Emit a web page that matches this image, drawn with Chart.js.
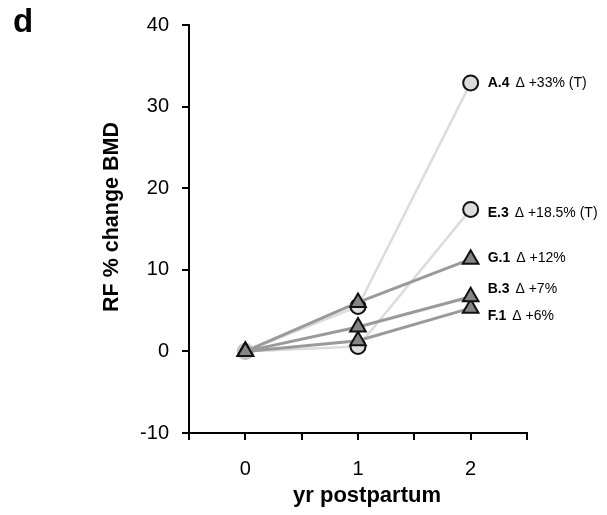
<!DOCTYPE html>
<html>
<head>
<meta charset="utf-8">
<script src="https://cdn.jsdelivr.net/npm/chart.js@4/dist/chart.umd.min.js"></script>
<style>
html,body{margin:0;padding:0;background:#fff;}
#wrap{width:607px;height:515px;position:relative;}
</style>
</head>
<body>
<div id="wrap"><canvas id="c" width="607" height="515"></canvas></div>
<script>
// ---- data ----
const years = [0, 1, 2];
const yTicks = [-10, 0, 10, 20, 30, 40];
const seriesNames = ['G.1', 'B.3', 'F.1', 'A.4', 'E.3'];
const seriesDeltas = ['Δ +12%', 'Δ +7%', 'Δ +6%', 'Δ +33% (T)', 'Δ +18.5% (T)'];
const G1 = [0, 6.0, 11.3];
const B3 = [0, 3.0, 6.7];
const F1 = [0, 1.3, 5.3];
const A4 = [0, 5.5, 32.9];
const E3 = [0, 0.6, 17.4];
const seriesValues = [G1, B3, F1, A4, E3];
const seriesKind = ['tri', 'tri', 'tri', 'circ', 'circ'];

const FONT = "Arial, 'Liberation Sans', sans-serif";

function pts(vals){ return vals.map((v,i)=>({x: years[i], y: v})); }

const datasets = seriesValues.map((vals, i) => {
  const tri = seriesKind[i] === 'tri';
  return {
    label: seriesNames[i],
    data: pts(vals),
    borderColor: tri ? '#9a9a9a' : '#dcdcdc',
    borderWidth: tri ? 3 : 2.5,
    pointStyle: tri ? 'triangle' : 'circle',
    pointRadius: tri ? 9 : 7.5,
    pointBackgroundColor: tri ? '#858585' : ['#c4c4c4', '#dcdcdc', '#dcdcdc'],
    pointBorderColor: tri ? '#111' : ['#c4c4c4', '#111', '#111'],
    pointBorderWidth: 2,
    tension: 0,
    fill: false,
    order: tri ? 0 : 1,
    clip: false
  };
});

// label offsets (pixels) relative to the last point of each series
const labelDy = {'A.4': 0, 'E.3': 4, 'G.1': -1, 'B.3': -8, 'F.1': 8};

const annot = {
  id: 'annot',
  afterDatasetsDraw(chart) {
    const ctx = chart.ctx;
    ctx.save();
    ctx.fillStyle = '#000';
    ctx.textBaseline = 'middle';
    chart.data.datasets.forEach((ds, i) => {
      const meta = chart.getDatasetMeta(i);
      const p = meta.data[meta.data.length - 1];
      const name = ds.label;
      const idx = seriesNames.indexOf(name);
      const x = p.x + 17;
      const y = p.y + (labelDy[name] || 0);
      ctx.font = "bold 14px " + FONT;
      ctx.textAlign = 'left';
      ctx.fillText(name, x, y);
      const w = ctx.measureText(name).width;
      ctx.font = "14px " + FONT;
      ctx.fillText(seriesDeltas[idx], x + w + 6, y);
    });
    // panel letter
    ctx.font = "bold 33px " + FONT;
    ctx.textBaseline = 'alphabetic';
    ctx.textAlign = 'left';
    ctx.fillText('d', 13, 32);
    // axis titles
    ctx.font = "bold 22px " + FONT;
    ctx.textAlign = 'center';
    ctx.textBaseline = 'middle';
    ctx.fillText('yr postpartum', 367, 496);
    ctx.font = "bold 21.5px " + FONT;
    ctx.save();
    ctx.translate(112, 217);
    ctx.rotate(-Math.PI / 2);
    ctx.fillText('RF % change BMD', 0, 0);
    ctx.restore();
    ctx.restore();
  }
};

new Chart(document.getElementById('c'), {
  type: 'line',
  data: { datasets },
  options: {
    responsive: false,
    animation: false,
    events: [],
    layout: { padding: { left: 0, right: 80, top: 25, bottom: 0 } },
    plugins: { legend: { display: false }, tooltip: { enabled: false } },
    scales: {
      x: {
        type: 'linear',
        min: -0.5, max: 2.5,
        afterFit(s) { s.height = 82; },
        afterBuildTicks(s) { s.ticks = [-0.5, 0, 0.5, 1, 1.5, 2, 2.5].map(v => ({value: v})); },
        ticks: {
          autoSkip: false, maxRotation: 0,
          callback: v => (Number.isInteger(v) ? String(v) : ''),
          font: { size: 20, family: FONT }, color: '#000', padding: 17
        },
        grid: { drawOnChartArea: false, drawTicks: true, tickLength: 7, color: '#000', lineWidth: 2 },
        border: { color: '#000', width: 2 }
      },
      y: {
        type: 'linear',
        min: -10, max: 40,
        afterFit(s) { s.width = 189; },
        afterBuildTicks(s) { s.ticks = yTicks.map(v => ({value: v})); },
        ticks: {
          font: { size: 20, family: FONT }, color: '#000', padding: 13
        },
        grid: { drawOnChartArea: false, drawTicks: true, tickLength: 7, color: '#000', lineWidth: 2 },
        border: { color: '#000', width: 2 }
      }
    }
  },
  plugins: [annot]
});
</script>
</body>
</html>
